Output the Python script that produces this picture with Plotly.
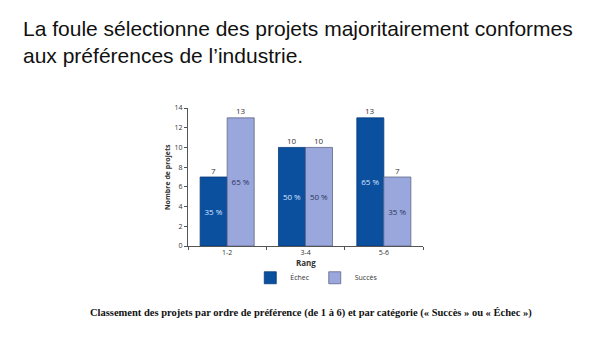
import plotly.graph_objects as go

categories = ["1-2", "3-4", "5-6"]
echec = [7, 10, 13]
succes = [13, 10, 7]
echec_pct = ["35 %", "50 %", "65 %"]
succes_pct = ["65 %", "50 %", "35 %"]
y_ticks = [0, 2, 4, 6, 8, 10, 12, 14]

title_text = "La foule sélectionne des projets majoritairement conformes<br>aux préférences de l’industrie."
caption = "Classement des projets par ordre de préférence (de 1 à 6) et par catégorie (« Succès » ou « Échec »)"

fig = go.Figure()
fig.add_trace(go.Bar(
    x=categories, y=echec, name="Échec",
    marker=dict(color="#0B4F9F", line=dict(color="#0a3a78", width=0.8)),
    text=echec_pct, textposition="inside", insidetextanchor="middle",
    textfont=dict(color="#d8e6ff", size=8, family="Open Sans"),
    cliponaxis=False,
))
fig.add_trace(go.Bar(
    x=categories, y=succes, name="Succès",
    marker=dict(color="#9AA7DC", line=dict(color="#5f6788", width=0.8)),
    text=succes_pct, textposition="inside", insidetextanchor="middle",
    textfont=dict(color="#2b3560", size=8, family="Open Sans"),
    cliponaxis=False,
))

for i, c in enumerate(categories):
    fig.add_annotation(x=c, y=echec[i], text=str(echec[i]), xshift=-13.5, yshift=7,
                       showarrow=False, font=dict(size=8, color="#333", family="Open Sans"))
    fig.add_annotation(x=c, y=succes[i], text=str(succes[i]), xshift=13.5, yshift=7,
                       showarrow=False, font=dict(size=8, color="#333", family="Open Sans"))

fig.add_annotation(xref="paper", yref="paper", x=-0.089, y=0.5, xanchor="center", yanchor="middle",
                   text="<b>Nombre de projets</b>",
                   textangle=-90, showarrow=False, font=dict(size=7, color="#333", family="Open Sans"))
fig.add_annotation(xref="paper", yref="paper", x=0.5, y=-0.12, xanchor="center", yanchor="middle",
                   text="<b>Rang</b>",
                   showarrow=False, font=dict(size=8, color="#333", family="Open Sans"))

fig.add_annotation(xref="paper", yref="paper", x=-0.71, y=1.475, xanchor="left", yanchor="middle",
                   text=title_text, showarrow=False, align="left",
                   font=dict(size=21, color="#111", family="Liberation Sans"))
fig.add_annotation(xref="paper", yref="paper", x=0.523, y=-0.486, xanchor="center", yanchor="middle",
                   text="<b>" + caption + "</b>", showarrow=False,
                   font=dict(size=10.5, color="#111", family="Liberation Serif"))

fig.update_layout(
    width=603, height=344,
    margin=dict(l=188, r=180, t=108, b=98),
    paper_bgcolor="white", plot_bgcolor="white",
    barmode="group", bargap=0.31, bargroupgap=0,
    showlegend=True,
    legend=dict(orientation="h", x=0.265, y=-0.125, xanchor="left", yanchor="top",
                font=dict(size=7, color="#333", family="Open Sans"),
                itemwidth=30, traceorder="normal"),
    xaxis=dict(range=[-0.5, 2.5], showline=True, linecolor="#555", linewidth=1,
               ticks="outside", tickson="boundaries", ticklen=3, tickcolor="#555",
               tickfont=dict(size=7, color="#333", family="Open Sans"), showgrid=False),
    yaxis=dict(range=[0, 14], tickvals=y_ticks, showline=True, linecolor="#555", linewidth=1,
               ticks="outside", ticklen=3, tickcolor="#555", showgrid=False, zeroline=False,
               tickfont=dict(size=7, color="#333", family="Open Sans")),
)

fig.write_html("out.html")
